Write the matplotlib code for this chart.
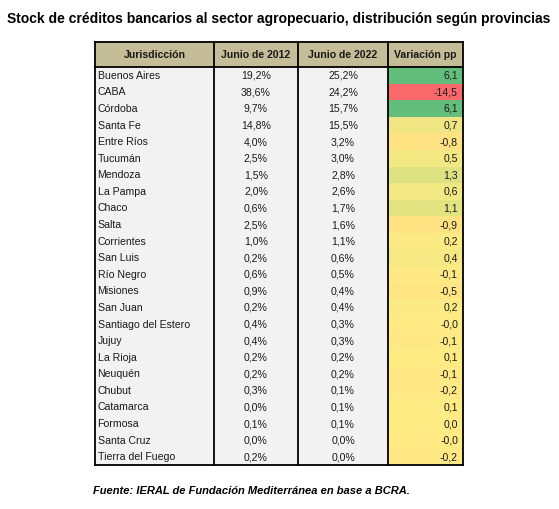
import matplotlib
matplotlib.use("Agg")
import matplotlib.pyplot as plt
from matplotlib.patches import Rectangle
import numpy as np

provincias = ["Buenos Aires", "CABA", "Córdoba", "Santa Fe", "Entre Ríos", "Tucumán",
              "Mendoza", "La Pampa", "Chaco", "Salta", "Corrientes", "San Luis",
              "Río Negro", "Misiones", "San Juan", "Santiago del Estero", "Jujuy",
              "La Rioja", "Neuquén", "Chubut", "Catamarca", "Formosa", "Santa Cruz",
              "Tierra del Fuego"]
junio_2012 = ["19,2%", "38,6%", "9,7%", "14,8%", "4,0%", "2,5%", "1,5%", "2,0%", "0,6%",
              "2,5%", "1,0%", "0,2%", "0,6%", "0,9%", "0,2%", "0,4%", "0,4%", "0,2%",
              "0,2%", "0,3%", "0,0%", "0,1%", "0,0%", "0,2%"]
junio_2022 = ["25,2%", "24,2%", "15,7%", "15,5%", "3,2%", "3,0%", "2,8%", "2,6%", "1,7%",
              "1,6%", "1,1%", "0,6%", "0,5%", "0,4%", "0,4%", "0,3%", "0,3%", "0,2%",
              "0,2%", "0,1%", "0,1%", "0,1%", "0,0%", "0,0%"]
variacion = [6.1, -14.5, 6.1, 0.7, -0.8, 0.5, 1.3, 0.6, 1.1, -0.9, 0.2, 0.4, -0.1, -0.5,
             0.2, -0.04, -0.1, 0.1, -0.1, -0.2, 0.1, 0.04, -0.04, -0.2]
variacion_txt = ["6,1", "-14,5", "6,1", "0,7", "-0,8", "0,5", "1,3", "0,6", "1,1", "-0,9",
                 "0,2", "0,4", "-0,1", "-0,5", "0,2", "-0,0", "-0,1", "0,1", "-0,1", "-0,2",
                 "0,1", "0,0", "-0,0", "-0,2"]
encabezados = ["Jurisdicción", "Junio de 2012", "Junio de 2022", "Variación pp"]

# excel style 3 colour scale (red - yellow - green)
red = np.array([248, 105, 107]) / 255
yellow = np.array([255, 235, 132]) / 255
green = np.array([99, 190, 123]) / 255
v = np.array(variacion)
vmin, vmid, vmax = v.min(), np.percentile(v, 50), v.max()

def scale_color(x):
    if x <= vmid:
        t = (vmid - x) / (vmid - vmin)
        return yellow + (red - yellow) * t
    t = (x - vmid) / (vmax - vmid)
    return yellow + (green - yellow) * t

plt.rcParams['font.family'] = ['Liberation Sans', 'DejaVu Sans']

W, H = 559, 509
fig = plt.figure(figsize=(W / 100, H / 100), dpi=100)
ax = fig.add_axes([0, 0, 1, 1])
ax.set_xlim(0, W)
ax.set_ylim(H, 0)
ax.axis("off")

cols = [95, 214, 298, 388, 463]
top, head_bot, bottom = 42, 67, 465
row_h = (bottom - head_bot) / len(provincias)
fs = 7.6

# header
ax.add_patch(Rectangle((cols[0], top), cols[-1] - cols[0], head_bot - top,
                       facecolor="#C4BD97", edgecolor="none"))
for i, h in enumerate(encabezados):
    ax.text((cols[i] + cols[i + 1]) / 2, (top + head_bot) / 2 + 0.5, h,
            ha="center", va="center", fontsize=fs, fontweight="bold", color="#1a1a1a")

# body
ax.add_patch(Rectangle((cols[0], head_bot), cols[3] - cols[0], bottom - head_bot,
                       facecolor="#F2F2F2", edgecolor="none"))
for r, name in enumerate(provincias):
    y0 = head_bot + r * row_h
    yc = y0 + row_h / 2 + 0.5
    ax.add_patch(Rectangle((cols[3], y0), cols[4] - cols[3], row_h + 0.3,
                           facecolor=scale_color(variacion[r]), edgecolor="none"))
    ax.text(cols[0] + 2.5, yc, name, ha="left", va="center", fontsize=fs, color="#1a1a1a")
    ax.text((cols[1] + cols[2]) / 2, yc, junio_2012[r], ha="center", va="center",
            fontsize=fs, color="#1a1a1a")
    ax.text((cols[2] + cols[3]) / 2, yc, junio_2022[r], ha="center", va="center",
            fontsize=fs, color="#1a1a1a")
    ax.text(cols[4] - 5, yc, variacion_txt[r], ha="right", va="center",
            fontsize=fs, color="#1a1a1a")

# borders
lw = 1.3
for x in cols:
    ax.plot([x, x], [top, bottom], color="black", lw=lw, solid_capstyle="projecting")
for y in [top, head_bot, bottom]:
    ax.plot([cols[0], cols[-1]], [y, y], color="black", lw=lw, solid_capstyle="projecting")

ax.text(279, 19, "Stock de créditos bancarios al sector agropecuario, distribución según provincias",
        ha="center", va="center", fontsize=10.0, fontweight="bold", color="black")
ax.text(93, 491, "Fuente: IERAL de Fundación Mediterránea en base a BCRA.",
        ha="left", va="center", fontsize=8, fontweight="bold", fontstyle="italic", color="black")

fig.savefig("out.png", dpi=100)
